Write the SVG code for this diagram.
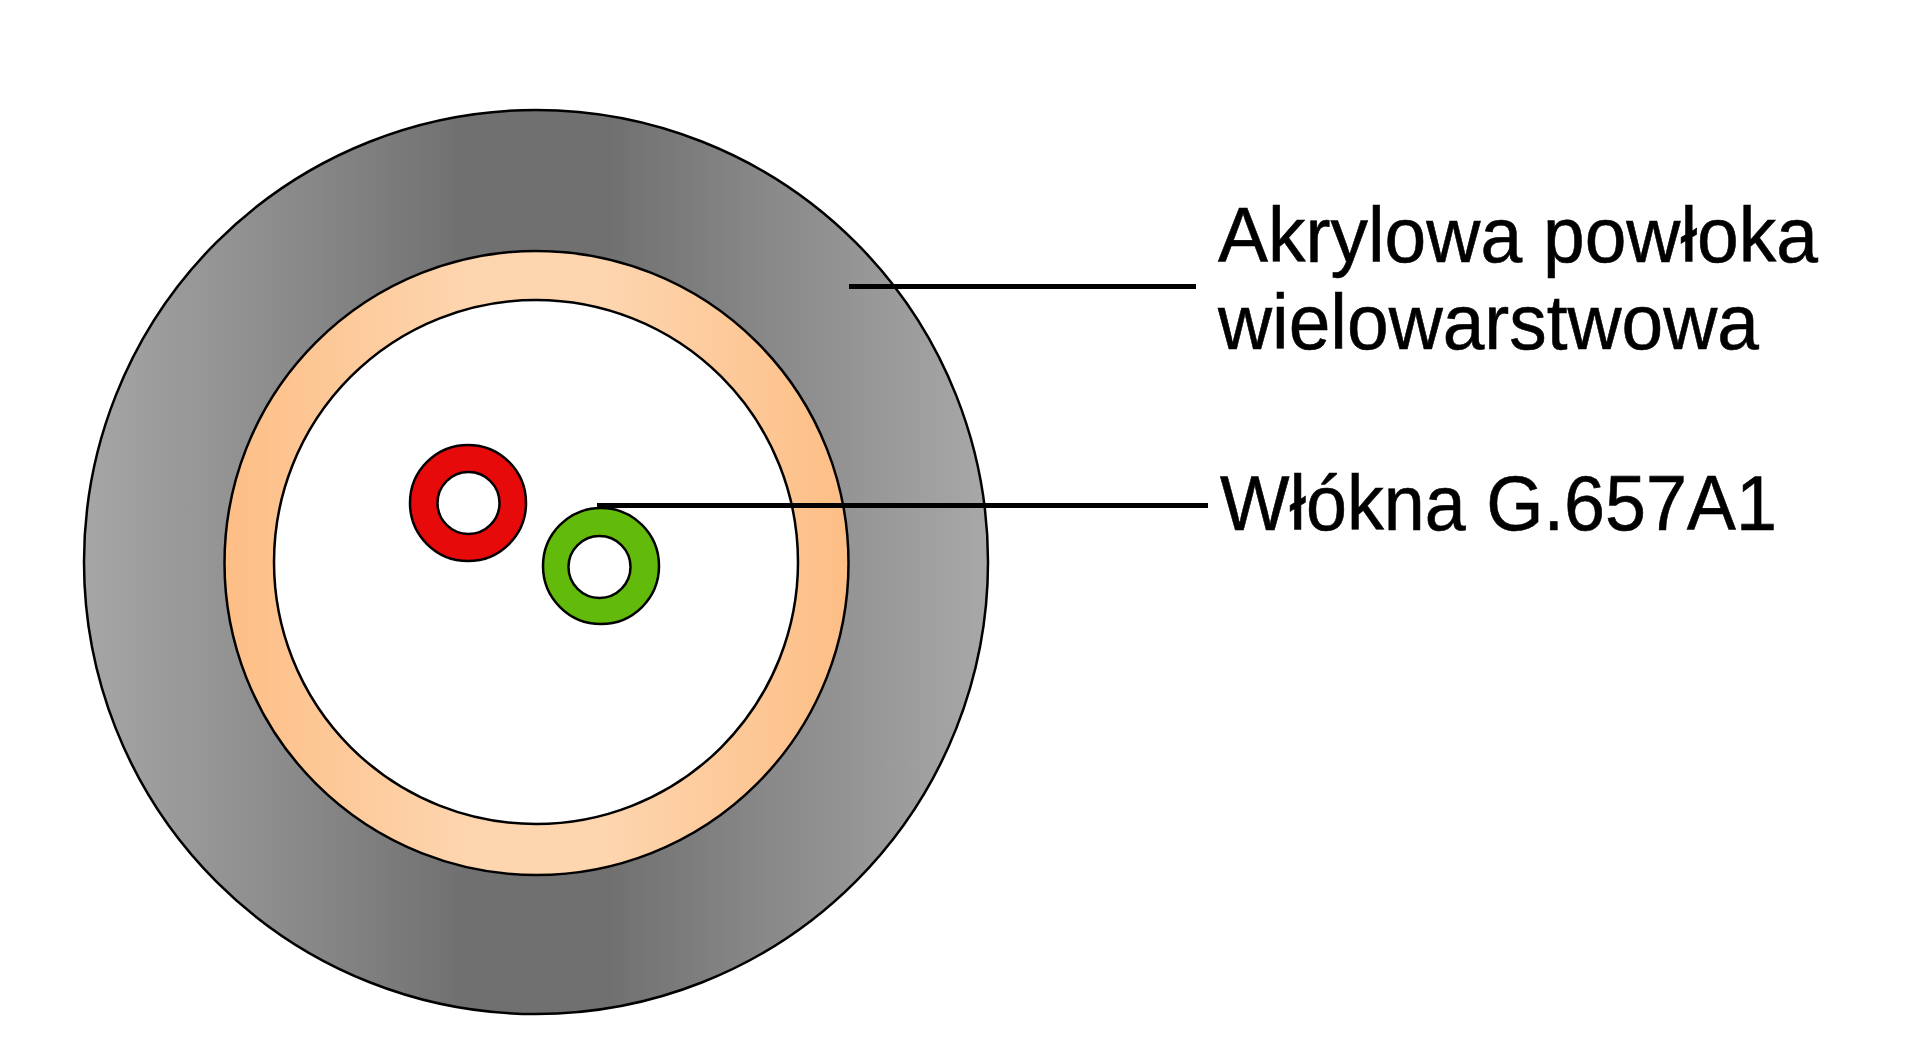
<svg xmlns="http://www.w3.org/2000/svg" width="1920" height="1058" viewBox="0 0 1920 1058">
<defs>
<linearGradient id="grey" gradientUnits="userSpaceOnUse" x1="84" y1="0" x2="988" y2="0"><stop offset="0" stop-color="#a6a6a6"/><stop offset="0.25" stop-color="#888"/><stop offset="0.42" stop-color="#707070"/><stop offset="0.58" stop-color="#707070"/><stop offset="0.75" stop-color="#888"/><stop offset="1" stop-color="#a8a8a8"/></linearGradient>
<linearGradient id="peach" gradientUnits="userSpaceOnUse" x1="224" y1="0" x2="849" y2="0"><stop offset="0" stop-color="#fdbe85"/><stop offset="0.4" stop-color="#fdd6b0"/><stop offset="0.6" stop-color="#fdd6b0"/><stop offset="1" stop-color="#fdbe85"/></linearGradient>
</defs>
<style>
.o{stroke:#000;stroke-width:2.500}
.t{font-family:"Liberation Sans",Arial,sans-serif;font-size:78px;fill:#000;stroke:#000;stroke-width:.6}
.l{stroke:#000;stroke-width:5;fill:none}
</style>
<rect width="1920" height="1058" fill="#fff"/>
<g id="outer-coating"><circle class="o" cx="536" cy="562" r="452" fill="url(#grey)"/></g>
<g id="peach-layer"><circle class="o" cx="536.5" cy="563" r="312" fill="url(#peach)"/></g>
<g id="core"><circle class="o" cx="536" cy="562" r="262" fill="#fff"/></g>
<g id="fiber-red"><circle class="o" cx="468" cy="503" r="58" fill="#e60a0a"/><circle class="o" cx="468.500" cy="503" r="31" fill="#fff"/></g>
<g id="fiber-green"><circle class="o" cx="601" cy="566" r="58" fill="#62bb0a"/><circle class="o" cx="599.500" cy="567" r="31" fill="#fff"/></g>
<g id="connectors"><path class="l" d="M849 286.500H1196"/><path class="l" d="M597 505.500H1208"/></g>
<g id="label-coating"><text class="t" x="1218" y="262" textLength="600" lengthAdjust="spacingAndGlyphs">Akrylowa powłoka</text><text class="t" x="1218" y="349" textLength="541" lengthAdjust="spacingAndGlyphs">wielowarstwowa</text></g>
<g id="label-fibers"><text class="t" x="1220" y="530" textLength="557" lengthAdjust="spacingAndGlyphs">Włókna G.657A1</text></g>
</svg>
